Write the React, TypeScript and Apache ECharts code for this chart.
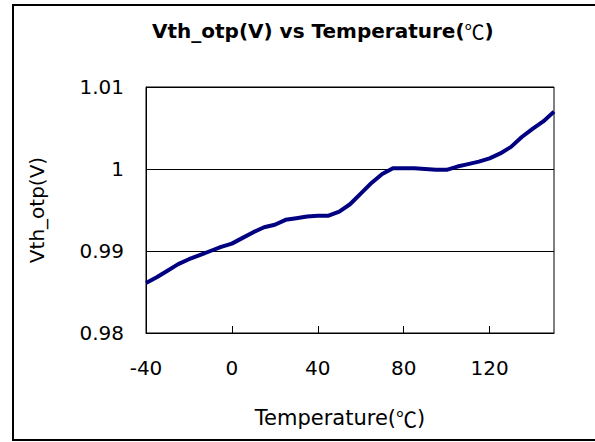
import React, { useEffect, useRef } from "react";
import * as echarts from "echarts";

const temperatures = [
  -40, -35, -30, -25, -20, -15, -10, -5, 0, 5, 10, 15, 20, 25, 30, 35, 40, 45, 50, 55,
  60, 65, 70, 75, 80, 85, 90, 95, 100, 105, 110, 115, 120, 125, 130, 135, 140, 145, 150,
];
const vthOtp = [
  0.9861, 0.9868, 0.9876, 0.9884, 0.989, 0.9895, 0.99, 0.9905, 0.9909, 0.9916, 0.9923,
  0.9929, 0.9932, 0.9938, 0.994, 0.9942, 0.9943, 0.9943, 0.9948, 0.9957, 0.997, 0.9983,
  0.9994, 1.0001, 1.0001, 1.0001, 1.0, 0.9999, 0.9999, 1.0003, 1.0006, 1.0009, 1.0013,
  1.0019, 1.0027, 1.0039, 1.0049, 1.0058, 1.007,
];
const titleText = "Vth_otp(V) vs Temperature({c|℃})";
const xName = "Temperature({c|℃})";
const yName = "Vth_otp(V)";

const FONT = "DejaVu Sans";
const CJK = "Noto Sans CJK SC";

export default function App() {
  const ref = useRef<HTMLDivElement>(null);
  useEffect(() => {
    if (!ref.current) return;
    const chart = echarts.init(ref.current, undefined, { renderer: "svg" });
    chart.setOption({
      animation: false,
      backgroundColor: "#fff",
      title: {
        text: titleText,
        left: 152,
        top: 21,
        padding: 0,
        textStyle: {
          fontFamily: FONT,
          fontSize: 20,
          fontWeight: "bold",
          color: "#000",
          rich: {
            c: { fontFamily: CJK, fontSize: 20, fontWeight: "normal", color: "#000" },
          },
        },
      },
      graphic: [
        {
          type: "rect",
          shape: { x: 13, y: 5, width: 600, height: 435 },
          style: { fill: "none", stroke: "#000", lineWidth: 2 },
          silent: true,
        },
        {
          type: "text",
          x: 340,
          y: 418,
          silent: true,
          style: {
            text: xName,
            fontFamily: FONT,
            fontSize: 21,
            fill: "#000",
            align: "center",
            verticalAlign: "middle",
            rich: {
              c: { fontFamily: CJK, fontSize: 21, fill: "#000" },
            },
          },
        },
      ],
      grid: {
        left: 146,
        right: 41,
        top: 87,
        bottom: 109,
        show: true,
        borderColor: "#000",
        borderWidth: 1,
        backgroundColor: "transparent",
      },
      xAxis: {
        type: "value",
        min: -40,
        max: 150,
        interval: 40,
        axisLine: { show: true, onZero: false, lineStyle: { color: "#000", width: 1 } },
        axisTick: { show: true, inside: true, length: 7, lineStyle: { color: "#000", width: 1 } },
        axisLabel: {
          fontFamily: FONT,
          fontSize: 20,
          color: "#000",
          margin: 25,
          showMaxLabel: false,
        },
        splitLine: { show: false },
      },
      yAxis: {
        type: "value",
        min: 0.98,
        max: 1.01,
        interval: 0.01,
        name: yName,
        nameLocation: "middle",
        nameGap: 99,
        nameTextStyle: { fontFamily: FONT, fontSize: 20, color: "#000" },
        axisLine: { show: true, onZero: false, lineStyle: { color: "#000", width: 1 } },
        axisTick: { show: false },
        axisLabel: {
          fontFamily: FONT,
          fontSize: 20,
          color: "#000",
          margin: 22,
          formatter: (v: number) => String(+v.toFixed(2)),
        },
        splitLine: { show: true, lineStyle: { color: "#000", width: 1 } },
      },
      series: [
        {
          type: "line",
          data: temperatures.map((t, i) => [t, vthOtp[i]]),
          showSymbol: false,
          smooth: false,
          lineStyle: { color: "#000080", width: 4 },
          itemStyle: { color: "#000080" },
        },
      ],
    });
    return () => chart.dispose();
  }, []);
  return (
    <div
      ref={ref}
      style={{ position: "fixed", left: 0, top: 0, width: 595, height: 442 }}
    />
  );
}
